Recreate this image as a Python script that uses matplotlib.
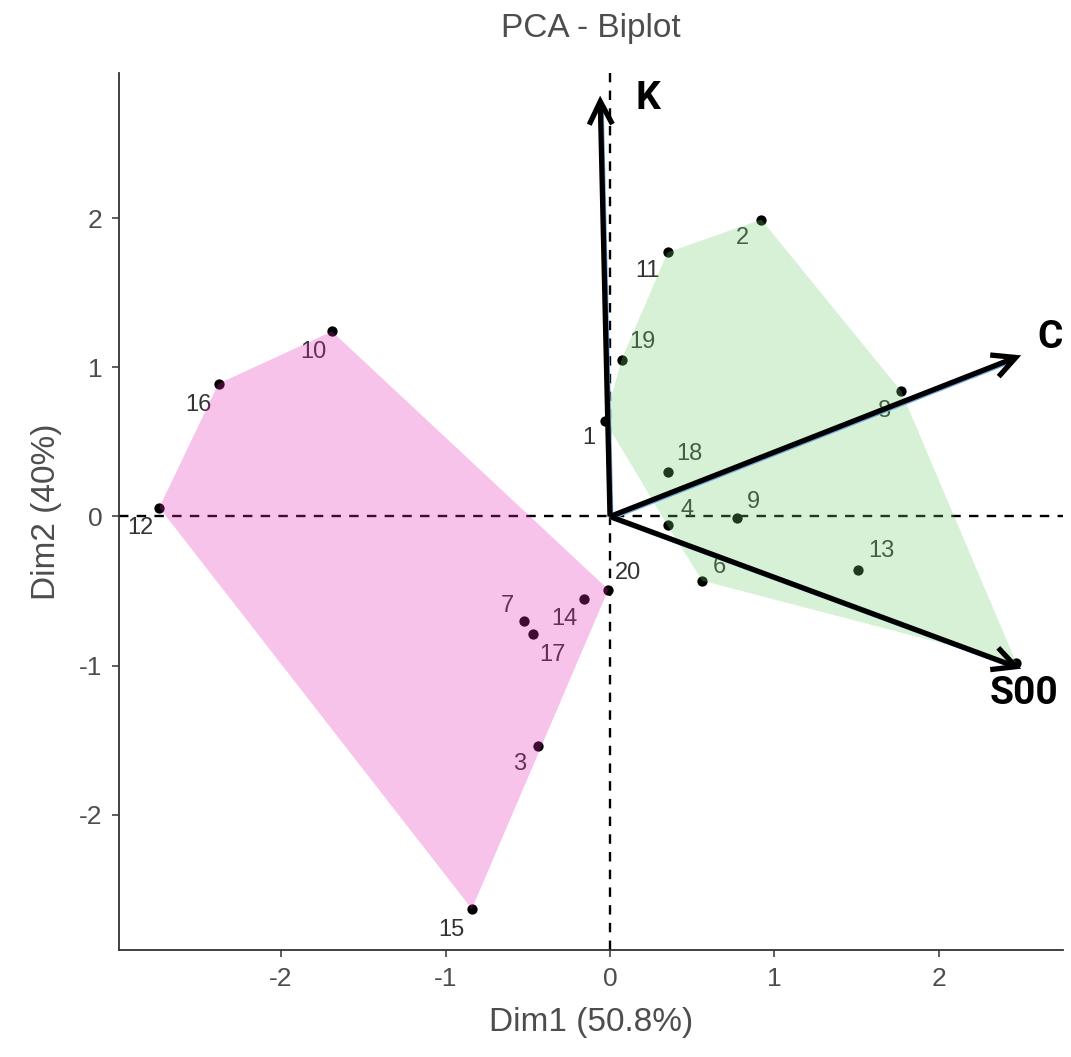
import numpy as np
import matplotlib
matplotlib.use("Agg")
import matplotlib.pyplot as plt
import matplotlib.transforms as mtransforms

# ---------------- data ----------------
ind_labels = ["1", "2", "3", "4", "5", "6", "7", "8", "9", "10",
              "11", "12", "13", "14", "15", "16", "17", "18", "19", "20"]
dim1 = [-0.03, 0.92, -0.44, 0.35, 2.47, 0.56, -0.52, 1.77, 0.77, -1.69,
        0.35, -2.74, 1.51, -0.16, -0.84, -2.38, -0.47, 0.35, 0.07, -0.01]
dim2 = [0.64, 1.99, -1.54, -0.06, -0.98, -0.43, -0.70, 0.84, -0.01, 1.24,
        1.77, 0.06, -0.36, -0.55, -2.63, 0.89, -0.79, 0.30, 1.05, -0.49]
group = ["B", "B", "A", "B", "B", "B", "A", "B", "B", "A",
         "B", "A", "B", "A", "A", "A", "A", "B", "B", "A"]
show_label = [True, True, True, True, False, True, True, True, True, True,
              True, True, True, True, True, True, True, True, True, True]

var_names = ["K", "C", "S00"]
var_dim1 = [-0.06, 2.50, 2.50]
var_dim2 = [2.82, 1.08, -1.02]

xlab = "Dim1 (50.8%)"
ylab = "Dim2 (40%)"
title = "PCA - Biplot"
xticks = [-2, -1, 0, 1, 2]
yticks = [-2, -1, 0, 1, 2]
xticklabels = ["-2", "-1", "0", "1", "2"]
yticklabels = ["-2", "-1", "0", "1", "2"]

# ---------------- style ----------------
group_colors = {"A": "#E629B4", "B": "#70D070"}
hull_alpha = 0.28
# label offsets in pixels (dx, dy with y up)
label_off = {"1": (-16, -17), "2": (-19, -18), "3": (-18, -18), "4": (19, 15),
             "6": (17, 14), "7": (-17, 15), "8": (-17, -20), "9": (17, 16),
             "10": (-19, -21), "11": (-20, -19), "12": (-19, -20), "13": (23, 19),
             "14": (-19, -20), "15": (-20, -21), "16": (-20, -21), "17": (20, -21),
             "18": (22, 18), "19": (21, 18), "20": (20, 17)}
var_text_off = {"K": (48, -3), "C": (29, 18), "S00": (3, -25)}

plt.rcParams['font.family'] = ['Liberation Sans', 'DejaVu Sans']

fig = plt.figure(figsize=(10.71, 10.57), dpi=100)
ax = fig.add_axes([119/1071, 1-950/1057, (1063-119)/1071, (950-73)/1057])
ax.set_xlim(-2.985, 2.754)
ax.set_ylim(-2.905, 2.972)

x = np.array(dim1)
y = np.array(dim2)

# reference lines
ax.axhline(0, color="black", lw=1.7, ls=(0, (4, 3.5)), zorder=1)
ax.axvline(0, color="black", lw=1.7, ls=(0, (4, 3.5)), zorder=1)

# points and labels
ax.scatter(x, y, s=55, color="black", zorder=2, linewidths=0)
for i, lab in enumerate(ind_labels):
    if not show_label[i]:
        continue
    dx, dy = label_off.get(lab, (15, 15))
    ax.annotate(lab, (x[i], y[i]), xytext=(dx, dy), textcoords="offset pixels",
                ha="center", va="center", fontsize=17, color="#333333", zorder=2)


def hull(pts):
    pts = sorted(map(tuple, pts))
    def cross(o, a, b):
        return (a[0]-o[0])*(b[1]-o[1]) - (a[1]-o[1])*(b[0]-o[0])
    lower, upper = [], []
    for p in pts:
        while len(lower) >= 2 and cross(lower[-2], lower[-1], p) <= 0:
            lower.pop()
        lower.append(p)
    for p in reversed(pts):
        while len(upper) >= 2 and cross(upper[-2], upper[-1], p) <= 0:
            upper.pop()
        upper.append(p)
    return np.array(lower[:-1] + upper[:-1])

g = np.array(group)
for grp, col in group_colors.items():
    m = g == grp
    h = hull(np.column_stack([x[m], y[m]]))
    ax.fill(h[:, 0], h[:, 1], color=col, alpha=hull_alpha, lw=0, zorder=3)

# variable arrows
off = mtransforms.offset_copy(ax.transData, fig=fig, x=1.5, y=-1.5, units="dots")
for name, vx, vy in zip(var_names, var_dim1, var_dim2):
    ax.annotate("", xy=(vx, vy), xytext=(0, 0),
                xycoords=off, textcoords=off,
                arrowprops=dict(arrowstyle="-", color="#6FA8DC", lw=2.8,
                                shrinkA=0, shrinkB=8), zorder=4)
    ax.annotate("", xy=(vx, vy), xytext=(0, 0),
                arrowprops=dict(arrowstyle="->,head_length=0.75,head_width=0.38",
                                mutation_scale=22,
                                color="black", lw=3.8, shrinkA=0, shrinkB=0,
                                joinstyle="miter", capstyle="butt"), zorder=5)
    tdx, tdy = var_text_off[name]
    ax.annotate(name, (vx, vy), xytext=(tdx, tdy), textcoords="offset pixels",
                ha="center", va="center", fontsize=28, fontweight="bold",
                family=["Liberation Sans Narrow", "Roboto", "DejaVu Sans"],
                color="black", zorder=6)

# axes styling
for s in ["top", "right"]:
    ax.spines[s].set_visible(False)
for s in ["left", "bottom"]:
    ax.spines[s].set_color("#333333")
    ax.spines[s].set_linewidth(1.3)
ax.set_xticks(xticks)
ax.set_xticklabels(xticklabels)
ax.set_yticks(yticks)
ax.set_yticklabels(yticklabels)
ax.tick_params(axis="both", direction="out", length=5, width=1.1, color="#333333",
               labelcolor="#4D4D4D", labelsize=19, pad=7)
ax.set_xlabel(xlab, fontsize=24, color="#4D4D4D", labelpad=12)
ax.set_ylabel(ylab, fontsize=24, color="#4D4D4D", labelpad=12)
ax.set_title(title, fontsize=24, color="#4D4D4D", pad=26)

fig.savefig("out.png", dpi=100)
